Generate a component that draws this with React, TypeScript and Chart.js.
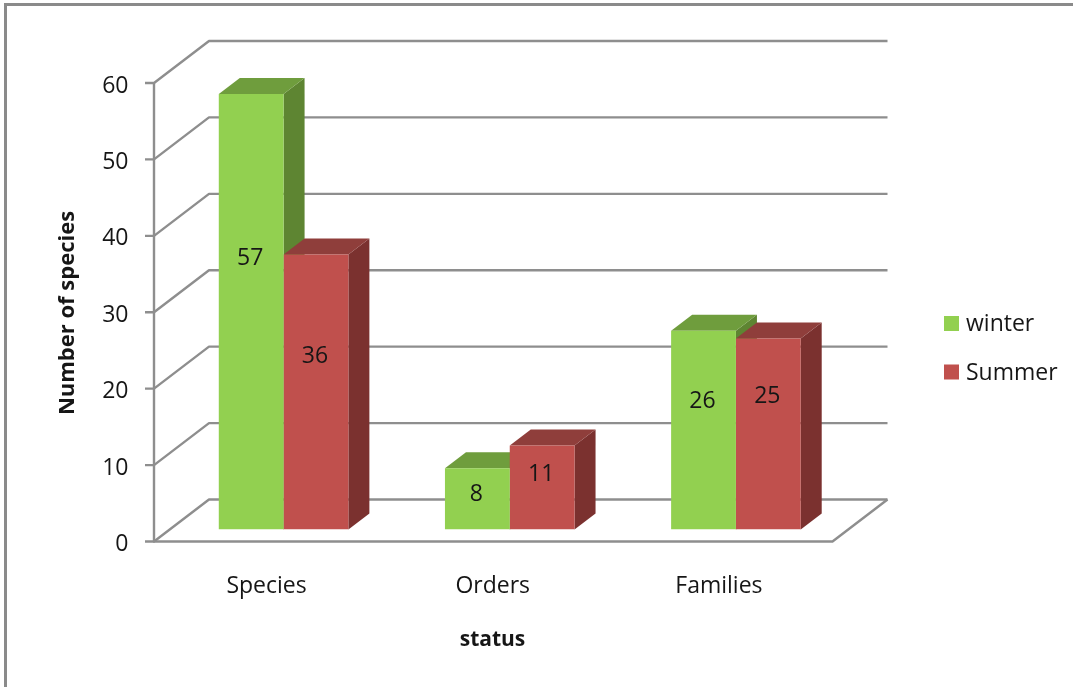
import React, { useEffect, useRef } from "react";
import { Chart, registerables } from "chart.js";

Chart.register(...registerables);

const categories = ["Species", "Orders", "Families"];
const winterValues = [57, 8, 26];
const summerValues = [36, 11, 25];
const yTicks = [0, 10, 20, 30, 40, 50, 60];

const FONT_FAMILY = '"Open Sans", sans-serif';
const TEXT_COLOR = "#161616";
const LINE_COLOR = "#8e8e8e";

const WINTER = { front: "#92d050", top: "#6f9d3d", side: "#5e8532" };
const SUMMER = { front: "#c0504d", top: "#8f3e3b", side: "#7b312f" };
const SERIES_FACES = [WINTER, SUMMER];

// Depth of one bar, and where the front and back planes of the box sit relative to the bars.
const BAR_DEPTH = { x: 21, y: 16 };
const FRONT_PLANE = { x: -16.5, y: 12 };
const BOX_DEPTH = { x: 55, y: 42 };

// Height of each value label, as a share of its bar, per series then category.
const LABEL_HEIGHT = [
  [0.628, 0.598, 0.657],
  [0.638, 0.673, 0.709],
];

const boxChart = {
  id: "boxChart",
  beforeDraw(chart: any) {
    const { ctx, width, height } = chart;
    ctx.save();
    ctx.fillStyle = "#ffffff";
    ctx.fillRect(0, 0, width, height);
    ctx.strokeStyle = "#8a8a8a";
    ctx.lineWidth = 3;
    ctx.beginPath();
    ctx.moveTo(5.5, height);
    ctx.lineTo(5.5, 4.5);
    ctx.lineTo(width, 4.5);
    ctx.stroke();
    ctx.restore();
  },
  beforeDatasetsDraw(chart: any) {
    const { ctx, chartArea, scales } = chart;
    const frontLeft = chartArea.left + FRONT_PLANE.x;
    const frontRight = chartArea.right + FRONT_PLANE.x;
    ctx.save();

    // Gridlines run along the left wall and across the back wall
    ctx.strokeStyle = LINE_COLOR;
    ctx.lineWidth = 2.4;
    ctx.lineJoin = "round";
    for (const value of yTicks) {
      const y = scales.y.getPixelForValue(value) + FRONT_PLANE.y;
      ctx.beginPath();
      ctx.moveTo(frontLeft - 9, y);
      ctx.lineTo(frontLeft, y);
      ctx.lineTo(frontLeft + BOX_DEPTH.x, y - BOX_DEPTH.y);
      ctx.lineTo(frontRight + BOX_DEPTH.x, y - BOX_DEPTH.y);
      ctx.stroke();
    }
    const floor = scales.y.getPixelForValue(0) + FRONT_PLANE.y;
    const ceiling = scales.y.getPixelForValue(60) + FRONT_PLANE.y;
    ctx.beginPath();
    ctx.moveTo(frontLeft, ceiling);
    ctx.lineTo(frontLeft, floor);
    ctx.lineTo(frontRight, floor);
    ctx.lineTo(frontRight + BOX_DEPTH.x, floor - BOX_DEPTH.y);
    ctx.stroke();

    // Side and top faces go down first, series by series, so that fronts cover them
    const { x: dx, y: dy } = BAR_DEPTH;
    chart.data.datasets.forEach((_: any, seriesIndex: number) => {
      const faces = SERIES_FACES[seriesIndex];
      for (const bar of chart.getDatasetMeta(seriesIndex).data as any[]) {
        const half = bar.width / 2;
        const l = bar.x - half;
        const r = bar.x + half;
        const t = bar.y;
        const b = bar.base;
        ctx.fillStyle = faces.side;
        ctx.beginPath();
        ctx.moveTo(r, t);
        ctx.lineTo(r + dx, t - dy);
        ctx.lineTo(r + dx, b - dy);
        ctx.lineTo(r, b);
        ctx.closePath();
        ctx.fill();
        ctx.fillStyle = faces.top;
        ctx.beginPath();
        ctx.moveTo(l, t);
        ctx.lineTo(l + dx, t - dy);
        ctx.lineTo(r + dx, t - dy);
        ctx.lineTo(r, t);
        ctx.closePath();
        ctx.fill();
      }
    });
    ctx.restore();
  },
  afterDraw(chart: any) {
    const { ctx } = chart;
    ctx.save();
    ctx.fillStyle = TEXT_COLOR;
    ctx.textAlign = "center";
    ctx.textBaseline = "middle";

    // Value labels, placed on the front face of each bar
    ctx.font = `23px ${FONT_FAMILY}`;
    chart.data.datasets.forEach((dataset: any, seriesIndex: number) => {
      const meta = chart.getDatasetMeta(seriesIndex);
      meta.data.forEach((bar: any, i: number) => {
        const y = bar.base + (bar.y - bar.base) * LABEL_HEIGHT[seriesIndex][i];
        ctx.fillText(String(dataset.data[i]), bar.x - 1, y + 2);
      });
    });

    // Axis titles
    ctx.font = `bold 21px ${FONT_FAMILY}`;
    ctx.fillText("status", 492.5, 640);
    ctx.font = `bold 22px ${FONT_FAMILY}`;
    ctx.save();
    ctx.translate(68, 313);
    ctx.rotate(-Math.PI / 2);
    ctx.fillText("Number of species", 0, 0);
    ctx.restore();

    // Legend
    ctx.font = `23px ${FONT_FAMILY}`;
    ctx.textAlign = "left";
    chart.data.datasets.forEach((dataset: any, i: number) => {
      const y = 323.5 + i * 48.5;
      ctx.fillStyle = SERIES_FACES[i].front;
      ctx.fillRect(944, y - 7.5, 15, 15);
      ctx.fillStyle = TEXT_COLOR;
      ctx.fillText(dataset.label, 966, y + 1);
    });
    ctx.restore();
  },
};

export default function App() {
  const canvasRef = useRef<HTMLCanvasElement>(null);

  useEffect(() => {
    const chart = new Chart(canvasRef.current as HTMLCanvasElement, {
      type: "bar",
      data: {
        labels: categories,
        datasets: [
          { label: "winter", data: winterValues, backgroundColor: WINTER.front },
          { label: "Summer", data: summerValues, backgroundColor: SUMMER.front },
        ],
      },
      plugins: [boxChart],
      options: {
        responsive: false,
        animation: false,
        layout: { padding: { left: 0, right: 224, top: 71, bottom: 0 } },
        datasets: { bar: { categoryPercentage: 0.573, barPercentage: 1 } },
        plugins: { legend: { display: false }, tooltip: { enabled: false } },
        scales: {
          x: {
            grid: { display: false, drawTicks: false },
            border: { display: false },
            afterFit: (scale: any) => {
              scale.height = 157.5;
            },
            ticks: {
              color: TEXT_COLOR,
              font: { family: FONT_FAMILY, size: 23 },
              labelOffset: -17,
              padding: 43,
              maxRotation: 0,
              autoSkip: false,
            },
          },
          y: {
            min: 0,
            max: 60,
            grid: { display: false, drawTicks: false },
            border: { display: false },
            afterFit: (scale: any) => {
              scale.width = 170.5;
            },
            afterBuildTicks: (scale: any) => {
              scale.ticks = yTicks.map((value) => ({ value }));
            },
            ticks: {
              color: TEXT_COLOR,
              font: { family: FONT_FAMILY, size: 23 },
              labelOffset: 15,
              padding: 42,
            },
          },
        },
      },
    } as any);
    return () => chart.destroy();
  }, []);

  return (
    <div style={{ position: "fixed", left: 0, top: 0, width: 1073, height: 687, background: "#fff" }}>
      <canvas ref={canvasRef} width={1073} height={687} style={{ display: "block" }} />
    </div>
  );
}
